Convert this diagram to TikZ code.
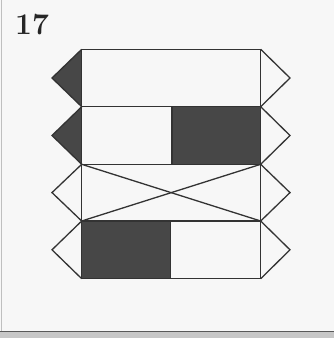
\documentclass[tikz,border=0pt]{standalone}
\begin{document}
\begin{tikzpicture}[x=1pt,y=-1pt,
  edge/.style={draw=black!80,line width=1.3pt,line join=miter},
  dark/.style={fill=black!72}]
\useasboundingbox (0,0) rectangle (334,338);
\fill[white!97!black] (0,0) rectangle (334,338);
\fill[black!22] (0,331) rectangle (334,338);
\draw[black!65,line width=1.2pt] (0,331.5) -- (334,331.5);
\draw[black!25,line width=1pt] (1,0) -- (1,331);
\node[anchor=north west,inner sep=0pt,text=black!85,font=\bfseries\fontsize{30}{36}\selectfont] (num) at (15,14) {17};
% coordinates
\coordinate (a0) at (81.7,49.3);  \coordinate (b0) at (260.7,49.3);
\coordinate (a1) at (81.7,106.7); \coordinate (b1) at (260.7,106.7);
\coordinate (a2) at (81.7,164.3); \coordinate (b2) at (260.7,164.3);
\coordinate (a3) at (81.7,221);   \coordinate (b3) at (260.7,221);
\coordinate (a4) at (81.7,278.7); \coordinate (b4) at (260.7,278.7);
\coordinate (l0) at (52,78);  \coordinate (r0) at (290,78);
\coordinate (l1) at (52,135.5); \coordinate (r1) at (290,135.5);
\coordinate (l2) at (52,192.6); \coordinate (r2) at (290,192.6);
\coordinate (l3) at (52,249.8); \coordinate (r3) at (290,249.8);
% fills
\fill[dark] (a0) -- (l0) -- (a1) -- cycle;
\fill[dark] (a1) -- (l1) -- (a2) -- cycle;
\fill[dark] (172,106.7) rectangle (b2);
\fill[dark] (a3) rectangle (170.5,278.7);
% outlines
\draw[edge] (a0) rectangle (b4);
\draw[edge] (a1) -- (b1);
\draw[edge] (a2) -- (b2);
\draw[edge] (a3) -- (b3);
\draw[edge] (172,106.7) -- (172,164.3);
\draw[edge] (170.5,221) -- (170.5,278.7);
\draw[edge] (a2) -- (b3);
\draw[edge] (a3) -- (b2);
\draw[edge] (a0) -- (l0) -- (a1) -- (l1) -- (a2) -- (l2) -- (a3) -- (l3) -- (a4);
\draw[edge] (b0) -- (r0) -- (b1) -- (r1) -- (b2) -- (r2) -- (b3) -- (r3) -- (b4);
\end{tikzpicture}
\end{document}
